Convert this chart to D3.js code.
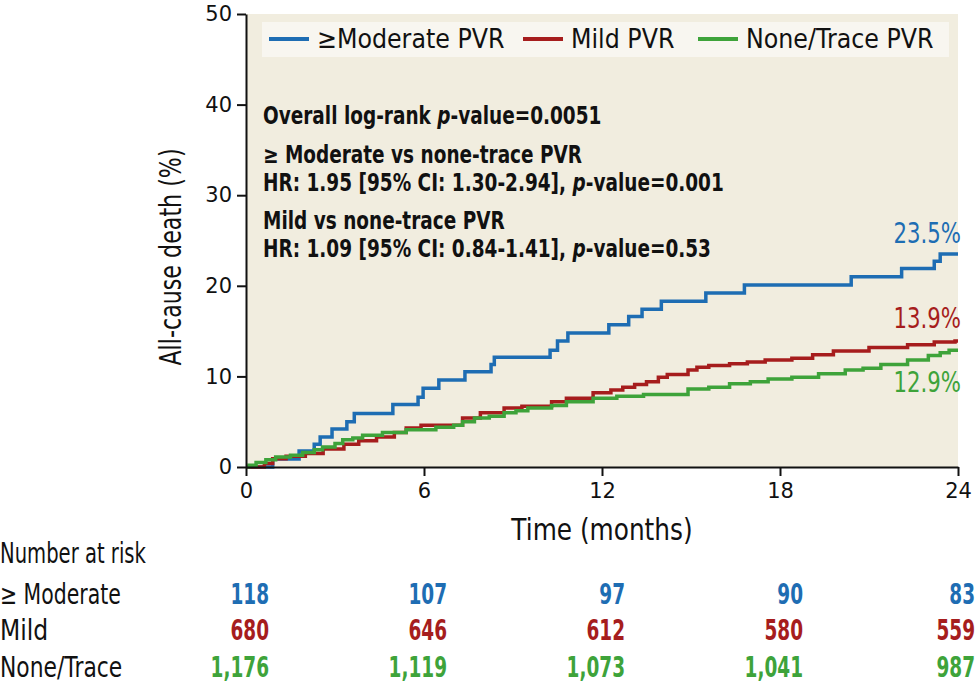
<!DOCTYPE html>
<html>
<head>
<meta charset="utf-8">
<script src="https://cdn.jsdelivr.net/npm/d3@7"></script>
<style>
  body { margin: 0; background: #fff; }
  svg text { font-family: "DejaVu Sans", sans-serif; }
</style>
</head>
<body>
<svg id="chart" width="977" height="688"></svg>
<script>
// step points [months, % dead]
const moderateSteps = [[0,0],[0.9,0.88],[1.79,1.77],[2.3,2.5],[2.5,3.3],[2.9,4.2],[3.4,5.0],[3.65,5.9],[4.95,6.9],[5.8,7.7],[5.97,8.7],[6.5,9.6],[7.38,10.5],[8.26,11.3],[8.37,12.1],[10.25,12.9],[10.5,13.9],[10.85,14.8],[12.23,15.7],[12.9,16.6],[13.35,17.4],[14.0,18.3],[15.5,19.2],[16.8,20.1],[20.4,21.0],[22.1,21.9],[23.2,22.7],[23.4,23.5]];
const mildSteps = [[0,0],[0.62,0.4],[0.9,0.9],[1.35,1.2],[2.0,1.5],[2.6,2.0],[3.3,2.5],[3.8,2.9],[4.4,3.3],[5.0,3.8],[5.4,4.3],[5.9,4.6],[7.3,5.4],[7.9,6.0],[8.7,6.5],[9.3,6.7],[10.3,7.2],[10.8,7.6],[11.7,8.2],[12.3,8.5],[12.7,8.8],[13.1,9.1],[13.5,9.4],[13.9,9.9],[14.2,10.2],[14.9,10.7],[15.2,11.0],[15.6,11.2],[16.3,11.4],[16.9,11.6],[17.5,11.8],[18.4,12.0],[19.1,12.4],[19.8,12.8],[21.0,13.2],[22.3,13.5],[23.2,13.8],[23.9,13.9]];
const noneSteps = [[0,0],[0.1,0.2],[0.34,0.5],[0.67,0.8],[1.0,1.1],[1.5,1.3],[1.91,1.6],[2.3,1.9],[2.58,2.2],[3.0,2.6],[3.26,3.0],[3.6,3.2],[3.93,3.5],[4.6,3.8],[5.4,4.1],[6.4,4.4],[7.0,4.6],[7.3,5.0],[7.7,5.4],[8.2,5.6],[8.7,6.0],[9.1,6.2],[9.5,6.5],[10.3,6.8],[10.8,7.2],[11.7,7.6],[12.5,7.8],[13.4,8.0],[14.9,8.6],[15.6,8.8],[16.3,9.2],[17.0,9.4],[17.6,9.7],[18.4,9.9],[19.3,10.3],[20.2,10.7],[20.8,10.9],[21.4,11.3],[22.3,11.8],[23.0,12.3],[23.4,12.6],[23.7,12.9]];

const seriesNames = ["≥Moderate PVR", "Mild PVR", "None/Trace PVR"];
const rowLabels = ["≥ Moderate", "Mild", "None/Trace"];
const endLabels = ["23.5%", "13.9%", "12.9%"];
const colors = ["#1e6db3", "#a61d1d", "#3ea33a"];

const riskTimes = [0, 6, 12, 18, 24];
const riskModerate = ["118", "107", "97", "90", "83"];
const riskMild = ["680", "646", "612", "580", "559"];
const riskNone = ["1,176", "1,119", "1,073", "1,041", "987"];

const xTicks = [0, 6, 12, 18, 24];
const yTicks = [0, 10, 20, 30, 40, 50];

const notes = [
  ["Overall log-rank ", "p", "-value=0.0051"],
  ["≥ Moderate vs none-trace PVR"],
  ["HR: 1.95 [95% CI: 1.30-2.94], ", "p", "-value=0.001"],
  ["Mild vs none-trace PVR"],
  ["HR: 1.09 [95% CI: 0.84-1.41], ", "p", "-value=0.53"]
];

const svg = d3.select("#chart");
const x = d3.scaleLinear().domain([0, 24]).range([246, 958]);
const y = d3.scaleLinear().domain([0, 50]).range([467, 14]);

// text squeezed sideways to mimic the condensed font of the original
function label(px, py, sx, size, rot) {
  return svg.append("g").attr("transform", `translate(${px},${py}) rotate(${rot || 0}) scale(${sx},1)`)
    .append("text").attr("font-size", size).attr("fill", "#111");
}

// plot background
svg.append("rect")
  .attr("x", x(0)).attr("y", y(50))
  .attr("width", x(24) - x(0)).attr("height", y(0) - y(50))
  .attr("fill", "#f1eddf");

// legend box
svg.append("rect").attr("x", 262).attr("y", 22).attr("width", 687).attr("height", 35).attr("fill", "#f8f6f0");
const legX = [269, 523, 698];
seriesNames.forEach((name, i) => {
  svg.append("line").attr("x1", legX[i]).attr("x2", legX[i] + 40).attr("y1", 39).attr("y2", 39)
    .attr("stroke", colors[i]).attr("stroke-width", 4);
  label(legX[i] + 48, 48, 0.88, 27).text(name);
});

// annotations
const noteY = [124, 163, 191, 229, 257];
notes.forEach((parts, i) => {
  const t = label(263, noteY[i], 0.77, 24).attr("font-weight", "bold");
  parts.forEach(p => {
    t.append("tspan").attr("font-style", p === "p" ? "italic" : null).text(p);
  });
});

// curves
const line = d3.line().curve(d3.curveStepAfter).x(d => x(d[0])).y(d => y(d[1]));
[moderateSteps, mildSteps, noneSteps].forEach((data, i) => {
  const pts = data.concat([[24, data[data.length - 1][1]]]);
  svg.append("path").datum(pts)
    .attr("fill", "none").attr("stroke", colors[i]).attr("stroke-width", 3.5)
    .attr("d", line);
});

// end labels
const endY = [243, 328, 392];
endLabels.forEach((lab, i) => {
  label(961, endY[i], 0.76, 28).attr("text-anchor", "end").attr("fill", colors[i]).text(lab);
});

// axes
const yAxis = svg.append("g").attr("transform", `translate(${x(0)},0)`)
  .call(d3.axisLeft(y).tickValues(yTicks).tickSize(9).tickSizeOuter(0).tickPadding(5));
const xAxis = svg.append("g").attr("transform", `translate(0,${y(0)})`)
  .call(d3.axisBottom(x).tickValues(xTicks).tickSize(9).tickSizeOuter(0).tickPadding(7));
[yAxis, xAxis].forEach(g => {
  g.selectAll("path, line").attr("stroke", "#111").attr("stroke-width", 2);
  g.selectAll("text").attr("font-size", 21).attr("fill", "#111")
    .style("font-family", "'DejaVu Sans', sans-serif");
});

label(602, 540, 0.8, 31).attr("text-anchor", "middle").text("Time (months)");
label(181, 257, 0.74, 30, -90).attr("text-anchor", "middle").text("All-cause death (%)");

// number at risk table
label(0, 563, 0.7, 28).text("Number at risk");
const rows = [riskModerate, riskMild, riskNone];
const rowY = [604, 640, 677];
const rowSx = [0.73, 0.84, 0.78];
rows.forEach((vals, r) => {
  label(0, rowY[r], rowSx[r], 28).text(rowLabels[r]);
  vals.forEach((v, i) => {
    label(Math.min(x(riskTimes[i]) + 23, 975), rowY[r], 0.66, 28)
      .attr("text-anchor", "end").attr("font-weight", "bold").attr("fill", colors[r]).text(v);
  });
});
</script>
</body>
</html>
